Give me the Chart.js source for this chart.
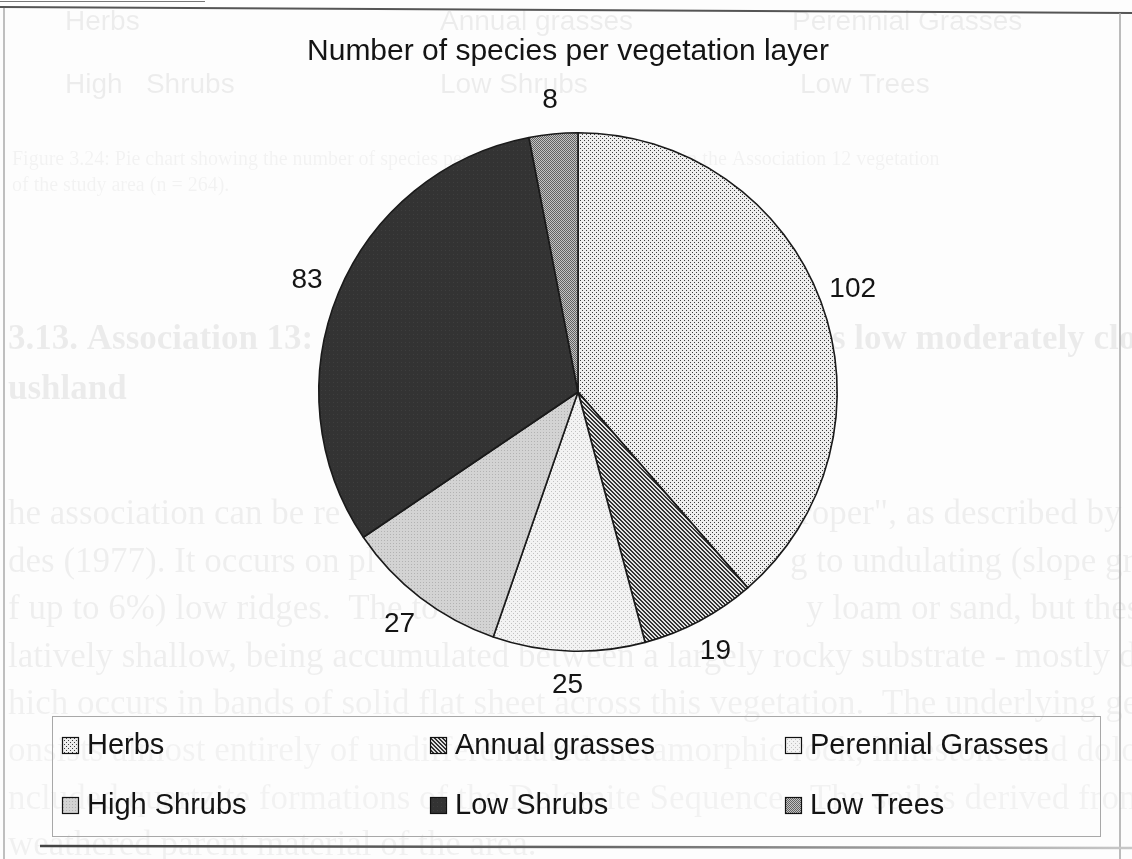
<!DOCTYPE html>
<html>
<head>
<meta charset="utf-8">
<title>Number of species per vegetation layer</title>
<script src="https://cdn.jsdelivr.net/npm/chart.js@4.4.1/dist/chart.umd.min.js"></script>
<style>
  html, body { margin: 0; padding: 0; background: #fdfdfd; }
  canvas { display: block; }
</style>
</head>
<body>
<canvas id="pie" width="1132" height="859"></canvas>
<script>
// Species counts per vegetation layer
const categories = ['Herbs', 'Annual grasses', 'Perennial Grasses', 'High Shrubs', 'Low Shrubs', 'Low Trees'];
const speciesCounts = [102, 19, 25, 27, 83, 8];
const chartTitle = 'Number of species per vegetation layer';

const SANS = '"Liberation Sans", Arial, Helvetica, sans-serif';
const SERIF = '"Liberation Serif", "Times New Roman", serif';

const canvas = document.getElementById('pie');
const ctx = canvas.getContext('2d');

// Small repeating tiles that give each layer its print-style fill
function tile(size, base, marks) {
  const c = document.createElement('canvas');
  c.width = c.height = size;
  const g = c.getContext('2d');
  g.fillStyle = base;
  g.fillRect(0, 0, size, size);
  marks.forEach(([x, y, col]) => { g.fillStyle = col; g.fillRect(x, y, 1, 1); });
  return ctx.createPattern(c, 'repeat');
}
const D = '#333333';
const fills = [
  tile(4, '#eeeeee', [[0, 0, '#3c3c3c'], [2, 2, '#3c3c3c']]),                         // Herbs: fine dots
  tile(4, '#e2e2e2', [[0,0,D],[1,0,D],[1,1,D],[2,1,D],[2,2,D],[3,2,D],[3,3,D],[0,3,D]]), // Annual grasses: hatch
  tile(4, '#f3f3f3', [[1, 1, '#c2c2c2'], [3, 3, '#c2c2c2']]),                         // Perennial grasses
  tile(3, '#d3d3d3', [[0, 0, '#b2b2b2']]),                                              // High shrubs
  tile(4, '#333333', [[1, 2, '#3e3e3e']]),                                              // Low shrubs
  tile(2, '#c4c4c4', [[0, 0, '#626262'], [1, 1, '#626262']])                            // Low trees: checker
];

// Faint show-through text of the printed page underneath the figure
const pageText = [
  { a: 0.065, f: '28px ' + SANS, y: 22, parts: [[65, 'Herbs'], [440, 'Annual grasses'], [792, 'Perennial Grasses']] },
  { a: 0.065, f: '28px ' + SANS, y: 85, parts: [[65, 'High   Shrubs'], [440, 'Low Shrubs'], [800, 'Low Trees']] },
  { a: 0.045, f: '20px ' + SERIF, y: 160, parts: [[12, 'Figure 3.24: Pie chart showing the number of species per vegetation layer recorded in the Association 12 vegetation']] },
  { a: 0.045, f: '20px ' + SERIF, y: 186, parts: [[12, 'of the study area (n = 264).']] },
  { a: 0.07, f: 'bold 35px ' + SERIF, y: 340, parts: [[8, '3.13. Association 13: '], [832, 's low moderately clo']] },
  { a: 0.07, f: 'bold 35px ' + SERIF, y: 390, parts: [[8, 'ushland']] },
  { a: 0.06, f: '35px ' + SERIF, y: 515, parts: [[8, 'he association can be re'], [800, 'roper", as described by']] },
  { a: 0.06, f: '35px ' + SERIF, y: 563, parts: [[8, 'des (1977). It occurs on pl'], [790, 'g to undulating (slope gradi']] },
  { a: 0.06, f: '35px ' + SERIF, y: 610, parts: [[8, 'f up to 6%) low ridges.  The to'], [806, 'y loam or sand, but these are']] },
  { a: 0.06, f: '35px ' + SERIF, y: 658, parts: [[8, 'latively shallow, being accumulated between a largely rocky substrate - mostly dolomi']] },
  { a: 0.05, f: '35px ' + SERIF, y: 705, parts: [[8, 'hich occurs in bands of solid flat sheet across this vegetation.  The underlying geology']] },
  { a: 0.045, f: '35px ' + SERIF, y: 752, parts: [[8, 'onsists almost entirely of undifferentiated metamorphic rock, limestone and dolomite w']] },
  { a: 0.045, f: '35px ' + SERIF, y: 800, parts: [[8, 'ncluded quartzite formations of the Dolomite Sequence.  The soil is derived from']] },
  { a: 0.05, f: '35px ' + SERIF, y: 846, parts: [[8, 'weathered parent material of the area.']] }
];

const pagePlugin = {
  id: 'page',
  beforeDraw(chart) {
    const c = chart.ctx;
    c.save();
    c.fillStyle = '#fdfdfd';
    c.fillRect(0, 0, chart.width, chart.height);
    c.textBaseline = 'middle';
    c.textAlign = 'left';
    pageText.forEach(line => {
      c.font = line.f;
      c.fillStyle = 'rgba(0,0,0,' + line.a + ')';
      line.parts.forEach(([x, t]) => c.fillText(t, x, line.y));
    });
    c.restore();
  },
  afterDraw(chart) {
    const c = chart.ctx;
    c.save();
    // figure frame
    c.lineCap = 'butt';
    c.strokeStyle = '#555';
    c.lineWidth = 2;
    c.beginPath(); c.moveTo(0, 7); c.lineTo(1132, 13); c.stroke();
    c.strokeStyle = '#777';
    c.lineWidth = 1;
    c.beginPath(); c.moveTo(0, 1.5); c.lineTo(205, 1.5); c.stroke();
    c.strokeStyle = '#aaa';
    c.lineWidth = 1.5;
    c.beginPath(); c.moveTo(4, 8); c.lineTo(4, 859); c.stroke();
    c.strokeStyle = '#a5a5a5';
    c.beginPath(); c.moveTo(1120, 13); c.lineTo(1120, 859); c.stroke();
    const g = c.createLinearGradient(40, 0, 1132, 0);
    g.addColorStop(0, '#444'); g.addColorStop(0.5, '#666'); g.addColorStop(1, '#c8c8c8');
    c.strokeStyle = g;
    c.lineWidth = 2.5;
    c.beginPath(); c.moveTo(40, 846); c.lineTo(1132, 848); c.stroke();

    // title
    c.fillStyle = '#141414';
    c.font = '30px ' + SANS;
    c.textAlign = 'center';
    c.textBaseline = 'middle';
    c.fillText(chartTitle, 568, 52);

    // legend box
    c.strokeStyle = '#a8a8a8';
    c.lineWidth = 1;
    c.strokeRect(52.5, 716.5, 1048, 120);
    const ds = chart.data.datasets[0];
    const colX = [62, 430, 785];
    const rowY = [745, 805];
    c.font = '29px ' + SANS;
    c.textAlign = 'left';
    chart.data.labels.forEach((lab, i) => {
      const x = colX[i % 3], y = rowY[Math.floor(i / 3)];
      c.fillStyle = ds.backgroundColor[i];
      c.fillRect(x, y - 8, 17, 17);
      c.strokeStyle = '#111';
      c.lineWidth = 1.2;
      c.strokeRect(x + 0.5, y - 7.5, 16, 16);
      c.fillStyle = '#141414';
      c.fillText(lab, x + 25, y + 1);
    });
    c.restore();
  }
};

// Value labels set just outside each slice, on its middle angle
const valueLabels = {
  id: 'valueLabels',
  afterDatasetsDraw(chart) {
    const c = chart.ctx;
    const meta = chart.getDatasetMeta(0);
    const values = chart.data.datasets[0].data;
    c.save();
    c.font = '28px ' + SANS;
    c.fillStyle = '#141414';
    c.textAlign = 'center';
    c.textBaseline = 'middle';
    meta.data.forEach((arc, i) => {
      const p = arc.getProps(['x', 'y', 'startAngle', 'endAngle', 'outerRadius'], true);
      const mid = (p.startAngle + p.endAngle) / 2;
      const r = p.outerRadius + 34;
      c.fillText(String(values[i]), p.x + Math.cos(mid) * r, p.y + Math.sin(mid) * r);
    });
    c.restore();
  }
};

new Chart(ctx, {
  type: 'pie',
  data: {
    labels: categories,
    datasets: [{
      data: speciesCounts,
      backgroundColor: fills,
      borderColor: '#1a1a1a',
      borderWidth: 1.6
    }]
  },
  options: {
    responsive: false,
    devicePixelRatio: 1,
    animation: false,
    events: [],
    layout: { padding: { left: 318, right: 294, top: 132, bottom: 207 } },
    plugins: {
      legend: { display: false },
      title: { display: false },
      tooltip: { enabled: false }
    }
  },
  plugins: [pagePlugin, valueLabels]
});
</script>
</body>
</html>
